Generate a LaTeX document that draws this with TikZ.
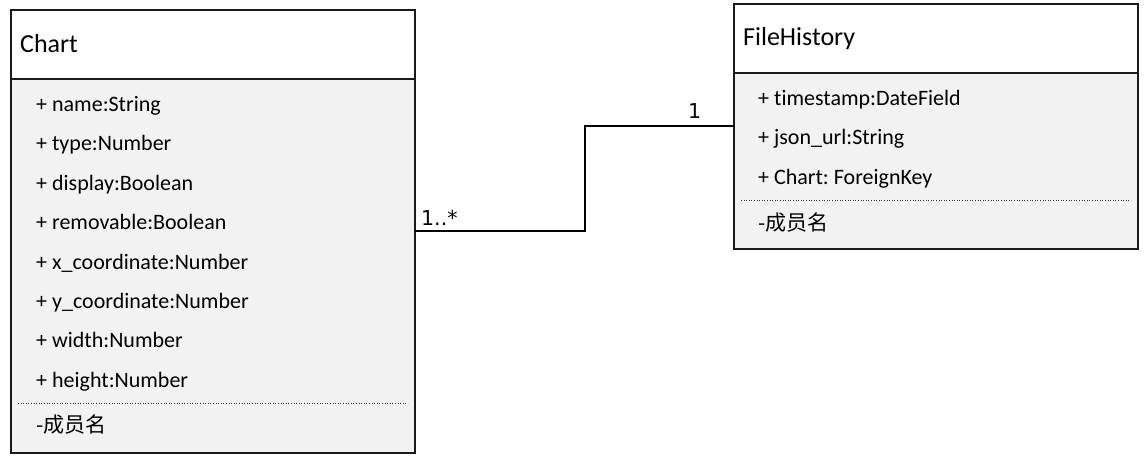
\documentclass[tikz,border=0pt]{standalone}
\usepackage{fontspec}
\setmainfont{Carlito}[Ligatures=NoCommon]
\newfontfamily\cjk{Noto Sans CJK SC}
\newfontfamily\lblfont{DejaVu Sans}
\definecolor{bodygray}{HTML}{F2F2F2}
\definecolor{edge}{HTML}{1A1A1A}
\frenchspacing
\begin{document}
\begin{tikzpicture}[x=1pt,y=-1pt,
  classbody/.style={draw=edge,line width=1.3pt,fill=bodygray,anchor=north west,inner sep=0pt,outer sep=0pt},
  classhead/.style={draw=edge,line width=1.3pt,fill=white,anchor=north west,inner sep=0pt,outer sep=0pt},
  titletext/.style={anchor=base west,inner sep=0pt,font=\fontsize{26}{30}\selectfont},
  attr/.style={anchor=base west,inner sep=0pt,font=\fontsize{22}{26}\selectfont},
  member/.style={anchor=base west,inner sep=0pt,font=\cjk\fontsize{21}{25}\selectfont},
  sep/.style={line width=0.6pt,dotted,draw=black!80},
  assoc/.style={draw=black,line width=1.2pt},
  mult/.style={anchor=base west,inner sep=0pt,font=\lblfont\fontsize{20.5}{24}\selectfont}]
\useasboundingbox (0,0) rectangle (1146,461);
\fill[white] (0,0) rectangle (1146,461);

% Chart class
\node[classbody,minimum width=404pt,minimum height=443pt] (chart) at (11,10) {};
\node[classhead,minimum width=404pt,minimum height=69pt] (charthead) at (11,10) {};
\node[titletext] (charttitle) at (20,52) {Chart};
\node[attr] (c1) at (36,111) {+ name:String};
\node[attr] (c2) at (36,150) {+ type:Number};
\node[attr] (c3) at (36,190) {+ display:Boolean};
\node[attr] (c4) at (36,229) {+ removable:Boolean};
\node[attr] (c5) at (36,269) {+ x\_coordinate:Number};
\node[attr] (c6) at (36,308) {+ y\_coordinate:Number};
\node[attr] (c7) at (36,347) {+ width:Number};
\node[attr] (c8) at (36,387) {+ height:Number};
\coordinate (cs1) at (18,403.5);
\coordinate (cs2) at (408,403.5);
\draw[sep] (cs1) -- (cs2);
\node[member] (cm) at (36,432) {-成员名};

% FileHistory class
\node[classbody,minimum width=404pt,minimum height=245pt] (fh) at (734,4) {};
\node[classhead,minimum width=404pt,minimum height=69pt] (fhhead) at (734,4) {};
\node[titletext] (fhtitle) at (743,45) {FileHistory};
\node[attr] (f1) at (758,105) {+ timestamp:DateField};
\node[attr] (f2) at (758,144.5) {+ json\_url:String};
\node[attr] (f3) at (758,184) {+ Chart: ForeignKey};
\coordinate (fs1) at (741,200.5);
\coordinate (fs2) at (1131,200.5);
\draw[sep] (fs1) -- (fs2);
\node[member] (fm) at (758,230) {-成员名};

% association
\coordinate (bend) at (585,126);
\draw[assoc] (chart.east |- 0,231) -| (bend) -- (fh.west |- 0,126);
\node[mult] (m1) at (421,225) {1..*};
\node[mult] (m2) at (688,118) {1};
\end{tikzpicture}
\end{document}
